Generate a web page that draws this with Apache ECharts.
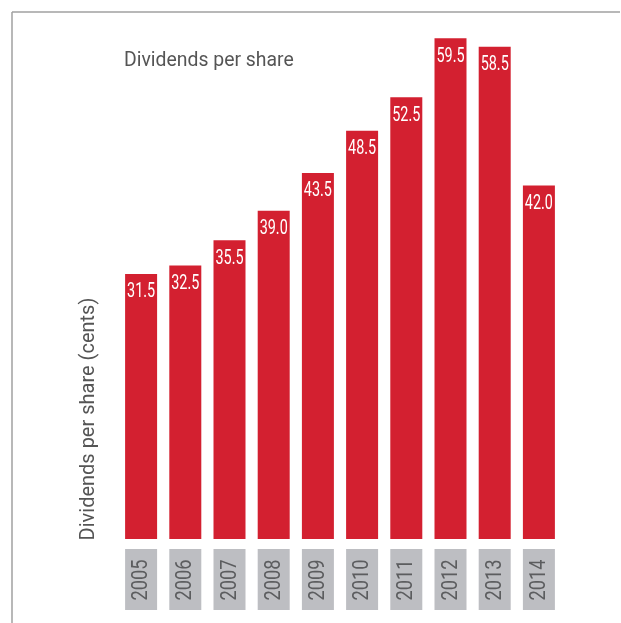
<!DOCTYPE html>
<html>
<head>
<meta charset="utf-8">
<script src="https://cdn.jsdelivr.net/npm/echarts@6/dist/echarts.min.js"></script>
<style>
  html, body { margin: 0; padding: 0; background: #ffffff; }
  #chart { width: 621px; height: 623px; }
</style>
</head>
<body>
<div id="chart"></div>
<script>
// Dividends per share, cents, by financial year
const years = ['2005', '2006', '2007', '2008', '2009', '2010', '2011', '2012', '2013', '2014'];
const dividends = [31.5, 32.5, 35.5, 39.0, 43.5, 48.5, 52.5, 59.5, 58.5, 42.0];

const titleText = 'Dividends per share';
const axisTitle = 'Dividends per share (cents)';

const FONT = 'Roboto, "Liberation Sans", sans-serif';
const RED = '#d32030';
const BOX_GREY = '#bdbec2';

// Narrow figures: squeeze text horizontally in its own frame
const VALUE_SQUEEZE = 0.72;
const YEAR_SQUEEZE = 0.83;

const chart = echarts.init(document.getElementById('chart'), null, { renderer: 'canvas' });

const pairs = years.map((y, i) => [y, dividends[i]]);

chart.setOption({
  animation: false,
  backgroundColor: '#ffffff',
  grid: { left: 119, width: 442, top: 34, bottom: 84, containLabel: false },
  xAxis: {
    type: 'category',
    data: years,
    axisLine: { show: false },
    axisTick: { show: false },
    axisLabel: { show: false }
  },
  yAxis: { type: 'value', min: 0, max: 60, show: false },
  series: [
    {
      type: 'bar',
      data: dividends,
      barWidth: 32,
      itemStyle: { color: RED },
      z: 2
    },
    {
      // value figures inside the top of each bar
      type: 'custom',
      data: pairs,
      z: 3,
      renderItem: function (params, api) {
        const v = api.value(1);
        const p = api.coord([api.value(0), v]);
        return {
          type: 'text',
          x: p[0],
          y: p[1] + 8.5,
          scaleX: VALUE_SQUEEZE,
          style: {
            text: v.toFixed(1),
            fill: '#ffffff',
            font: '20px ' + FONT,
            align: 'center',
            verticalAlign: 'top'
          }
        };
      }
    },
    {
      // year tags under the bars
      type: 'custom',
      data: pairs,
      z: 3,
      clip: false,
      renderItem: function (params, api) {
        const p = api.coord([api.value(0), 0]);
        return {
          type: 'group',
          children: [
            {
              type: 'rect',
              shape: { x: p[0] - 16, y: p[1] + 10, width: 32, height: 61 },
              style: { fill: BOX_GREY }
            },
            {
              type: 'text',
              x: p[0] + 0.5,
              y: p[1] + 41,
              rotation: Math.PI / 2,
              scaleX: YEAR_SQUEEZE,
              style: {
                text: years[params.dataIndex],
                fill: '#5c5d5f',
                font: '22px ' + FONT,
                align: 'center',
                verticalAlign: 'middle'
              }
            }
          ]
        };
      }
    }
  ],
  graphic: [
    { type: 'line', shape: { x1: 12, y1: 12, x2: 620, y2: 12 }, style: { stroke: '#a0a0a0', lineWidth: 1.5 } },
    { type: 'line', shape: { x1: 12, y1: 12, x2: 12, y2: 623 }, style: { stroke: '#a0a0a0', lineWidth: 1.5 } },
    {
      type: 'text',
      x: 124, y: 51,
      scaleX: 0.97,
      style: {
        text: titleText,
        font: '20px ' + FONT,
        fill: '#555555',
        align: 'left',
        verticalAlign: 'top'
      }
    },
    {
      type: 'text',
      x: 89, y: 419,
      rotation: Math.PI / 2,
      style: {
        text: axisTitle,
        font: '20px ' + FONT,
        fill: '#555555',
        align: 'center',
        verticalAlign: 'middle'
      }
    }
  ]
});
</script>
</body>
</html>
